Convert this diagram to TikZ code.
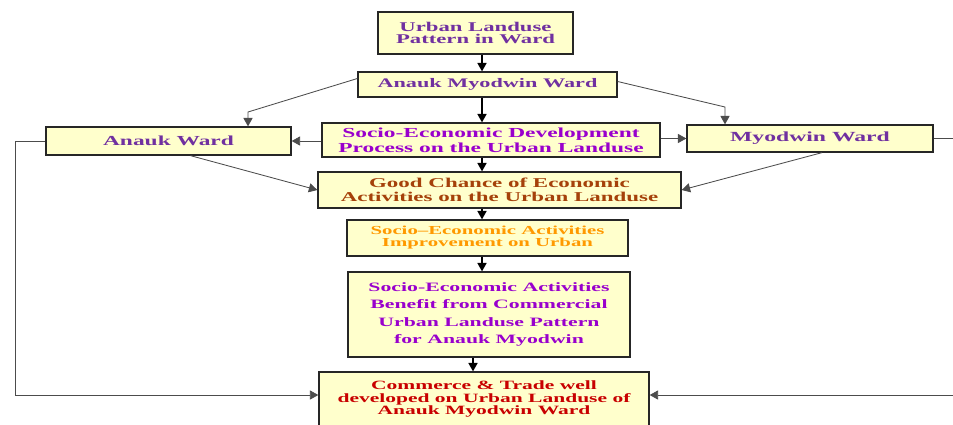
\documentclass[tikz,border=0pt]{standalone}
\usepackage{fontspec}
\newfontfamily\boxfont[FakeStretch=1.7]{Liberation Serif}
\usetikzlibrary{arrows.meta}
\usetikzlibrary{calc}
\definecolor{boxfill}{RGB}{255,255,204}
\definecolor{purpleT}{RGB}{112,48,160}
\definecolor{violetT}{RGB}{153,0,204}
\definecolor{brownT}{RGB}{165,65,10}
\definecolor{orangeT}{RGB}{255,153,0}
\definecolor{redT}{RGB}{200,0,0}
\tikzset{box/.style 2 args={draw=black!85, line width=0.9pt, fill=boxfill, align=center, inner sep=1pt,
  font=\boxfont\bfseries\fontsize{#1}{#2}\selectfont}}
\tikzset{arr/.style={-{Triangle[length=6pt,width=6.5pt]}, line width=0.6pt, black!70}}
\tikzset{varr/.style={arr, line width=0.9pt, black}}

\begin{document}
\begin{tikzpicture}[x=0.025cm,y=-0.025cm]
      \useasboundingbox (0,0) rectangle (953,424);

      \node [box={9.5}{9}, text=purpleT, minimum width=4.875cm, minimum height=1.05cm] (urban) at (475.5,33) {Urban Landuse\\Pattern in Ward};
      \node [box={9.3}{10}, text=purpleT, minimum width=6.475cm, minimum height=0.625cm] (am) at (487.5,84.5) {Anauk Myodwin Ward};
      \node [box={9.8}{10}, text=purpleT, minimum width=6.125cm, minimum height=0.7cm] (aw) at (168.5,141) {Anauk Ward};
      \node [box={9.8}{10.5}, text=violetT, minimum width=8.45cm, minimum height=0.85cm] (sd) at (491,140) {Socio-Economic Development\\Process on the Urban Landuse};
      \node [box={9.9}{10}, text=purpleT, minimum width=6.15cm, minimum height=0.675cm] (mw) at (810,138.5) {Myodwin Ward};
      \node [box={9.6}{10}, text=brownT, minimum width=9.075cm, minimum height=0.9cm] (gc) at (499.5,190) {Good Chance of Economic\\Activities on the Urban Landuse};
      \node [box={8.7}{8.5}, text=orangeT, minimum width=7.025cm, minimum height=0.9cm] (imp) at (487.5,238) {Socio–Economic Activities\\Improvement on Urban};
      \node [box={9.1}{12.4}, text=violetT, minimum width=7.05cm, minimum height=2.125cm] (ben) at (489,314.5) {Socio-Economic Activities\\Benefit from Commercial\\Urban Landuse Pattern\\for Anauk Myodwin};
      \node [box={9}{9}, text=redT, minimum width=8.25cm, minimum height=1.35cm] (com) at (484,399) {Commerce \& Trade well\\developed on Urban Landuse of\\Anauk Myodwin Ward};

      \coordinate (spine) at (482,0);
      \coordinate (spineb) at (473,0);
      \draw [varr] (urban.south -| spine) -- (am.north -| spine);
      \draw [varr] (am.south -| spine) -- (sd.north -| spine);
      \draw [varr] (sd.south -| spine) -- (gc.north -| spine);
      \draw [varr] (gc.south -| spine) -- (imp.north -| spine);
      \draw [varr] (imp.south -| spine) -- (ben.north -| spine);
      \draw [varr] (ben.south -| spineb) -- (com.north -| spineb);

      \coordinate (kl) at (248,112);
      \coordinate (kr) at (725,107);
      \draw [arr] ($(am.west)+(0,-6)$) -- (kl) -- (kl |- aw.north);
      \draw [arr] ($(am.east)+(0,-3)$) -- (kr) -- (kr |- mw.north);
      \draw [arr] (sd.west |- aw) -- (aw.east);
      \draw [arr] (sd.east |- mw) -- (mw.west);
      \draw [arr] ($(aw.south)+(22,0)$) -- (gc.west);
      \draw [arr] ($(mw.south)+(12,0)$) -- (gc.east);

      \coordinate (lb) at (15,395);
      \coordinate (rb) at (975,395);
      \draw [arr] (aw.west) -| (lb) -- (lb -| com.west);
      \draw [arr] (mw.east) -| (rb) -- (rb -| com.east);
    \end{tikzpicture}
\end{document}
